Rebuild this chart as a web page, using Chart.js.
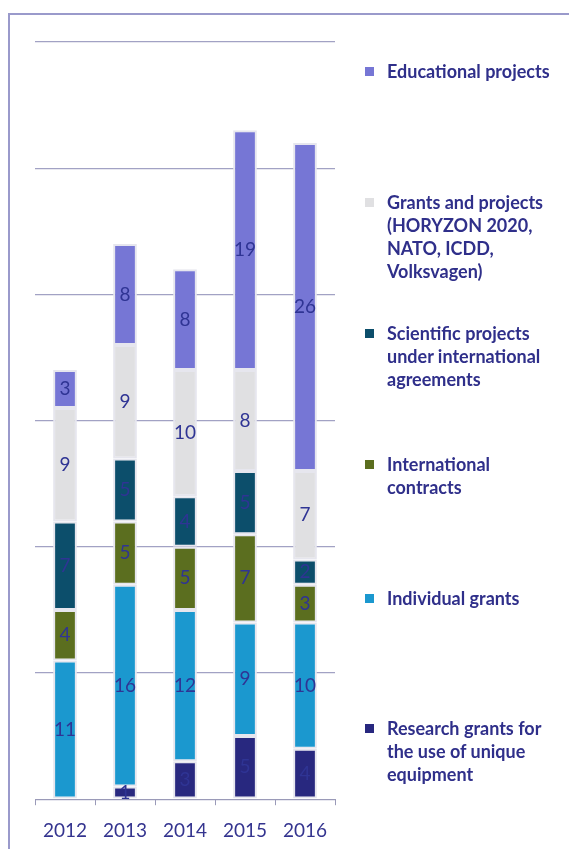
<!DOCTYPE html>
<html>
<head>
<meta charset="utf-8">
<script src="https://cdn.jsdelivr.net/npm/chart.js@4"></script>
<style>
    html, body { margin: 0; padding: 0; background: #fff; }
    #wrap { position: relative; width: 569px; height: 849px; overflow: hidden; }
    #frame { position: absolute; left: 8px; top: 13px; width: 600px; height: 900px;
             border-left: 2px solid #9a9acb; border-top: 2px solid #9a9acb; }
    canvas { position: absolute; left: 0; top: 0; }
    .legend-item { position: absolute; left: 365px; font: bold 18px Lato, sans-serif;
                   color: #2f2f8a; line-height: 23px; }
    .legend-item span.box { position: absolute; left: 0; top: 7px; width: 9px; height: 9px; }
    .legend-item div.txt { margin-left: 22px; white-space: nowrap; }
</style>
</head>
<body>
<div id="wrap">
    <div id="frame"></div>
    <canvas id="chart" width="569" height="860"></canvas>
    <div id="legend"></div>
</div>
<script>
// Data (bottom segment first)
const years = ['2012', '2013', '2014', '2015', '2016'];
const researchGrants = [0, 1, 3, 5, 4];
const individualGrants = [11, 16, 12, 9, 10];
const internationalContracts = [4, 5, 5, 7, 3];
const scientificProjects = [7, 5, 4, 5, 2];
const grantsProjects = [9, 9, 10, 8, 7];
const educationalProjects = [3, 8, 8, 19, 26];

const seriesNames = [
    ['Research grants for', 'the use of unique', 'equipment'],
    ['Individual grants'],
    ['International', 'contracts'],
    ['Scientific projects', 'under international', 'agreements'],
    ['Grants and projects', '(HORYZON 2020,', 'NATO, ICDD,', 'Volksvagen)'],
    ['Educational projects'],
];
const seriesValues = [researchGrants, individualGrants, internationalContracts,
    scientificProjects, grantsProjects, educationalProjects];
const seriesColors = ['#28287f', '#1b98cf', '#5b6e1f', '#0c4e6b', '#e0e0e2', '#7676d5'];

const labelColor = '#2f3494';

// Draws the value in the middle of each segment
const segmentLabels = {
    id: 'segmentLabels',
    afterDatasetsDraw(chart) {
        const ctx = chart.ctx;
        ctx.save();
        ctx.font = '19px Lato, sans-serif';
        ctx.fillStyle = labelColor;
        ctx.textAlign = 'center';
        ctx.textBaseline = 'middle';
        chart.data.datasets.forEach((ds, i) => {
            const meta = chart.getDatasetMeta(i);
            meta.data.forEach((bar, j) => {
                const v = ds.data[j];
                if (!v) return;
                ctx.fillText(String(v), bar.x, (bar.y + bar.base) / 2);
            });
        });
        ctx.restore();
    }
};

const datasets = seriesValues.map((values, i) => ({
    label: seriesNames[i].join(' '),
    data: values,
    backgroundColor: seriesColors[i],
    borderColor: '#e6e6ee',
    borderWidth: 2,
    borderSkipped: false,
    barPercentage: 0.66,
    categoryPercentage: 0.6,
}));

new Chart(document.getElementById('chart'), {
    type: 'bar',
    data: { labels: years, datasets: datasets },
    options: {
        responsive: false,
        animation: false,
        layout: { padding: { left: 35, right: 234, top: 42, bottom: 4 } },
        plugins: { legend: { display: false }, tooltip: { enabled: false } },
        scales: {
            x: {
                stacked: true,
                grid: { display: true, drawOnChartArea: false, drawTicks: true, tickLength: 6, color: '#9a9ab8', offset: true },
                border: { display: true, color: '#9a9ab8' },
                ticks: { color: '#34348f', font: { family: 'Lato', size: 19 }, padding: 14 },
            },
            y: {
                stacked: true,
                min: 0,
                max: 60,
                ticks: { display: false, stepSize: 10 },
                border: { display: false },
                grid: { color: '#a2a2c4', lineWidth: 1.2, drawTicks: false },
            },
        },
    },
    plugins: [segmentLabels],
});

// Legend on the right, top item first
const legendTops = [60, 191, 322, 453, 587, 717];
const legend = document.getElementById('legend');
for (let k = 0; k < seriesNames.length; k++) {
    const i = seriesNames.length - 1 - k;
    const item = document.createElement('div');
    item.className = 'legend-item';
    item.style.top = legendTops[k] + 'px';
    item.innerHTML = `<span class="box" style="background:${seriesColors[i]}"></span>` +
        `<div class="txt">${seriesNames[i].join('<br>')}</div>`;
    legend.appendChild(item);
}
</script>
</body>
</html>
